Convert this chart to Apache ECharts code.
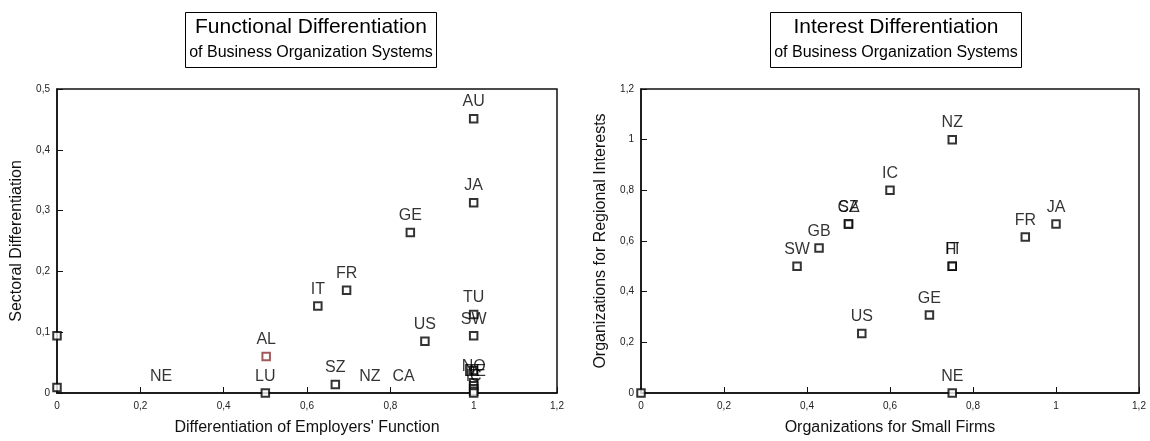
<!DOCTYPE html>
<html>
<head>
<meta charset="utf-8">
<script src="https://cdn.jsdelivr.net/npm/echarts@6/dist/echarts.min.js"></script>
<style>
html,body{margin:0;padding:0;background:#fff;}
#chart{width:1150px;height:441px;}
</style>
</head>
<body>
<div id="chart"></div>
<script>
// ---- Left chart: Functional Differentiation ----
const leftNames = ['AU','JA','GE','FR','IT','TU','SW','US','AL','SZ','LU','','','','','','','',''];
const leftX     = [1, 1, 0.848, 0.695, 0.626, 1, 1, 0.883, 0.502, 0.668, 0.5, 0, 0, 1, 1, 1, 1, 1, 1];
const leftY     = [0.451, 0.313, 0.264, 0.169, 0.143, 0.129, 0.094, 0.085, 0.060, 0.014, 0, 0.094, 0.009, 0.037, 0.017, 0.012, 0.007, 0.003, 0];
// labels without a visible marker
const leftTextNames = ['NE','NZ','CA','NO','IE','DE','IC'];
const leftTextX     = [0.25, 0.751, 0.832, 1, 0.997, 1.003, 1];
const leftTextY     = [0, 0, 0, 0.016, 0.008, 0.008, 0];

// ---- Right chart: Interest Differentiation ----
const rightNames = ['NZ','IC','CA','SZ','GB','SW','JA','FR','FI','IT','GE','US','NE',''];
const rightX     = [0.75, 0.6, 0.5, 0.5, 0.429, 0.376, 1, 0.926, 0.75, 0.75, 0.695, 0.532, 0.75, 0];
const rightY     = [1, 0.8, 0.667, 0.667, 0.572, 0.5, 0.667, 0.616, 0.5, 0.5, 0.308, 0.235, 0, 0];

const xTicks = [0, 0.2, 0.4, 0.6, 0.8, 1, 1.2];

const FONT = "'Liberation Sans', Arial, sans-serif";
const fmt = v => String(+v.toFixed(2)).replace('.', ',');

function pts(names, xs, ys, special) {
  return xs.map((x, i) => {
    const d = { name: names[i], value: [x, ys[i]] };
    if (special && special[names[i]]) d.itemStyle = { borderColor: special[names[i]] };
    return d;
  });
}

function axisBase(idx, max, interval, name, isY, gap) {
  return {
    type: 'value', gridIndex: idx, min: 0, max: max, interval: interval,
    name: name, nameLocation: 'middle', nameGap: gap,
    nameTextStyle: { fontFamily: FONT, fontSize: 16, color: '#111' },
    axisLine: { show: true, onZero: false, lineStyle: { color: '#111', width: 1.5 } },
    axisTick: { show: true, inside: true, length: 6, lineStyle: { color: '#111', width: 1 } },
    axisLabel: { fontFamily: FONT, fontSize: 10, color: '#222', margin: isY ? 7 : 8, formatter: fmt },
    splitLine: { show: false }
  };
}

const markerStyle = { color: '#fff', borderColor: '#000', borderWidth: 2 };
const labelStyle = { show: true, position: 'top', distance: 4, formatter: p => p.name,
  fontFamily: FONT, fontSize: 16, color: '#000' };

function titleBox(main, center) {
  return {
    text: main, subtext: 'of Business Organization Systems',
    left: center, top: 12, textAlign: 'center',
    borderColor: '#000', borderWidth: 1, padding: [4, 4, 6, 4], itemGap: 6,
    textStyle: { fontFamily: FONT, fontSize: 21, fontWeight: 'normal', color: '#000', lineHeight: 22 },
    subtextStyle: { fontFamily: FONT, fontSize: 16, color: '#000', lineHeight: 18 }
  };
}

const option = {
  backgroundColor: '#fff',
  animation: false,
  title: [ titleBox('Functional Differentiation', 307), titleBox('Interest Differentiation', 892) ],
  grid: [
    { left: 57, top: 89, width: 500, height: 308, show: true, borderColor: '#111', borderWidth: 1.5, containLabel: false },
    { left: 641, top: 89, width: 498, height: 308, show: true, borderColor: '#111', borderWidth: 1.5, containLabel: false }
  ],
  xAxis: [
    axisBase(0, 1.2, 0.2, "Differentiation of Employers' Function", false, 27),
    axisBase(1, 1.2, 0.2, 'Organizations for Small Firms', false, 27)
  ],
  yAxis: [
    axisBase(0, 0.5, 0.1, 'Sectoral Differentiation', true, 32),
    axisBase(1, 1.2, 0.2, 'Organizations for Regional Interests', true, 32)
  ],
  series: [
    { type: 'scatter', xAxisIndex: 0, yAxisIndex: 0, symbol: 'rect', symbolSize: 7.5, clip: false,
      itemStyle: markerStyle, label: labelStyle,
      data: pts(leftNames, leftX, leftY, { AL: '#8b2e2e' }) },
    { type: 'scatter', xAxisIndex: 0, yAxisIndex: 0, symbol: 'rect', symbolSize: 7.5, clip: false,
      itemStyle: { color: 'rgba(0,0,0,0)', borderColor: 'rgba(0,0,0,0)' }, label: labelStyle,
      data: pts(leftTextNames, leftTextX, leftTextY) },
    { type: 'scatter', xAxisIndex: 1, yAxisIndex: 1, symbol: 'rect', symbolSize: 7.5, clip: false,
      itemStyle: markerStyle, label: labelStyle,
      data: pts(rightNames, rightX, rightY) }
  ]
};

const chart = echarts.init(document.getElementById('chart'), null, { renderer: 'canvas' });
chart.setOption(option);
</script>
</body>
</html>
